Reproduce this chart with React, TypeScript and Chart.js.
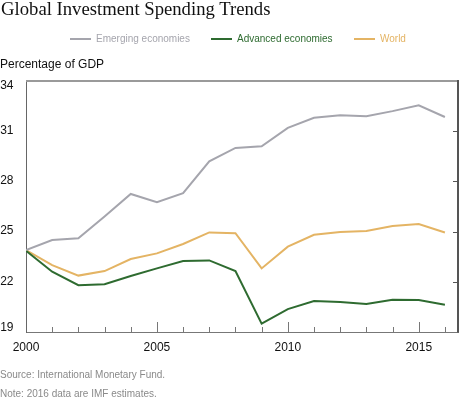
import React, { useEffect, useRef } from "react";
import { Chart, registerables } from "chart.js";

Chart.register(...registerables);

const years = [2000, 2001, 2002, 2003, 2004, 2005, 2006, 2007, 2008, 2009, 2010, 2011, 2012, 2013, 2014, 2015, 2016];
const emerging = [23.9, 24.5, 24.6, 25.9, 27.25, 26.75, 27.3, 29.2, 30.0, 30.1, 31.2, 31.8, 31.95, 31.9, 32.2, 32.55, 31.85];
const advanced = [23.85, 22.6, 21.8, 21.85, 22.35, 22.8, 23.24, 23.28, 22.64, 19.5, 20.37, 20.85, 20.79, 20.67, 20.93, 20.91, 20.63];
const world = [23.9, 23.0, 22.37, 22.64, 23.36, 23.7, 24.26, 24.95, 24.9, 22.8, 24.1, 24.81, 24.97, 25.03, 25.33, 25.45, 24.95];
const xTickLabels = [2000, 2005, 2010, 2015];
const yTickLabels = [19, 22, 25, 28, 31, 34];
const seriesNames = ["Emerging economies", "Advanced economies", "World"];
const seriesColors = ["#a5a5ad", "#2e6b30", "#e4b464"];

const FONT = "'Liberation Sans', Arial, sans-serif";

const framePlugin = {
  id: "frame",
  afterDatasetsDraw(chart: any) {
    const { ctx, chartArea, scales } = chart;
    const xs = scales.x;
    const ys = scales.y;
    const { left, right, top, bottom } = chartArea;
    ctx.save();
    // top border
    ctx.strokeStyle = "#9a9a9a";
    ctx.lineWidth = 2;
    ctx.beginPath();
    ctx.moveTo(left, top);
    ctx.lineTo(right + 1, top);
    ctx.stroke();
    // right border
    ctx.strokeStyle = "#555555";
    ctx.beginPath();
    ctx.moveTo(right, top - 1);
    ctx.lineTo(right, bottom + 0.5);
    ctx.stroke();
    // bottom ticks
    ctx.strokeStyle = "#777777";
    ctx.lineWidth = 1;
    years.forEach((yr) => {
      if (yr === years[0]) return;
      const x = Math.round(xs.getPixelForValue(yr)) + 0.5;
      const len = yr % 5 === 0 ? 10 : 5;
      ctx.beginPath();
      ctx.moveTo(x, bottom);
      ctx.lineTo(x, bottom - len);
      ctx.stroke();
    });
    // right ticks
    ctx.strokeStyle = "#555555";
    yTickLabels.forEach((v) => {
      if (v === ys.min || v === ys.max) return;
      const y = Math.round(ys.getPixelForValue(v)) + 0.5;
      ctx.beginPath();
      ctx.moveTo(right - 5, y);
      ctx.lineTo(right, y);
      ctx.stroke();
    });
    // y labels
    ctx.fillStyle = "#111111";
    ctx.font = `12px ${FONT}`;
    ctx.textAlign = "right";
    ctx.textBaseline = "middle";
    yTickLabels.forEach((v) => {
      let y = ys.getPixelForValue(v);
      if (v === ys.max) y += 4.3;
      else if (v === ys.min) y -= 4.5;
      else y -= 0.5;
      ctx.fillText(String(v), 13.5, y);
    });
    ctx.restore();
  },
};

export default function App() {
  const canvasRef = useRef<HTMLCanvasElement>(null);

  useEffect(() => {
    const canvas = canvasRef.current;
    if (!canvas) return;
    const datasets = [emerging, advanced, world].map((d, i) => ({
      label: seriesNames[i],
      data: d,
      borderColor: seriesColors[i],
      backgroundColor: seriesColors[i],
      borderWidth: 2,
      pointRadius: 0,
      tension: 0,
      fill: false,
    }));
    const chart = new Chart(canvas, {
      type: "line",
      data: { labels: years, datasets },
      options: {
        animation: false,
        responsive: false,
        devicePixelRatio: 1,
        layout: { padding: { top: 81, right: 2, left: 0, bottom: 0 } },
        plugins: { legend: { display: false }, tooltip: { enabled: false } },
        scales: {
          x: {
            type: "linear",
            min: 2000,
            max: 2016.5,
            grid: { display: false, drawTicks: false },
            border: { display: true, color: "#777777", width: 1 },
            afterBuildTicks: (scale: any) => {
              scale.ticks = xTickLabels.map((v) => ({ value: v }));
            },
            afterFit: (scale: any) => {
              scale.height = 67;
            },
            ticks: {
              padding: 8,
              maxRotation: 0,
              autoSkip: false,
              color: "#111111",
              font: { family: FONT, size: 12 },
              callback: (v: any) => String(v),
            },
          },
          y: {
            min: 19,
            max: 34,
            grid: { display: false, drawTicks: false },
            border: { display: true, color: "#666666", width: 1 },
            ticks: { display: false },
            afterBuildTicks: (scale: any) => {
              scale.ticks = yTickLabels.map((v) => ({ value: v }));
            },
            afterFit: (scale: any) => {
              scale.width = 26;
            },
          },
        },
      },
      plugins: [framePlugin],
    });
    return () => chart.destroy();
  }, []);

  const legendX = [70, 211, 354];

  return (
    <div style={{ position: "absolute", left: 0, top: 0, width: 460, height: 399, fontFamily: FONT, overflow: "hidden", background: "#fff" }}>
      <canvas ref={canvasRef} width={460} height={399} style={{ position: "absolute", left: 0, top: 0, width: 460, height: 399 }} />
      <div style={{ position: "absolute", left: 1, top: -1, fontFamily: "'Liberation Serif', Georgia, serif", fontSize: 18.7, lineHeight: "20px", color: "#111", whiteSpace: "nowrap" }}>
        Global Investment Spending Trends
      </div>
      {seriesNames.map((name, i) => (
        <div key={name} style={{ position: "absolute", left: legendX[i], top: 32.5, height: 12, display: "flex", alignItems: "center", whiteSpace: "nowrap" }}>
          <div style={{ width: 21, height: 2, background: seriesColors[i], marginRight: 5 }} />
          <span style={{ fontSize: 10, lineHeight: "12px", color: seriesColors[i] }}>{name}</span>
        </div>
      ))}
      <div style={{ position: "absolute", left: 0, top: 57, fontSize: 12, lineHeight: "14px", color: "#111", whiteSpace: "nowrap" }}>
        Percentage of GDP
      </div>
      <div style={{ position: "absolute", left: 0, top: 369, fontSize: 10, lineHeight: "12px", color: "#8a8a8a", whiteSpace: "nowrap" }}>
        Source: International Monetary Fund.
      </div>
      <div style={{ position: "absolute", left: 0, top: 388, fontSize: 10, lineHeight: "12px", color: "#8a8a8a", whiteSpace: "nowrap" }}>
        Note: 2016 data are IMF estimates.
      </div>
    </div>
  );
}
